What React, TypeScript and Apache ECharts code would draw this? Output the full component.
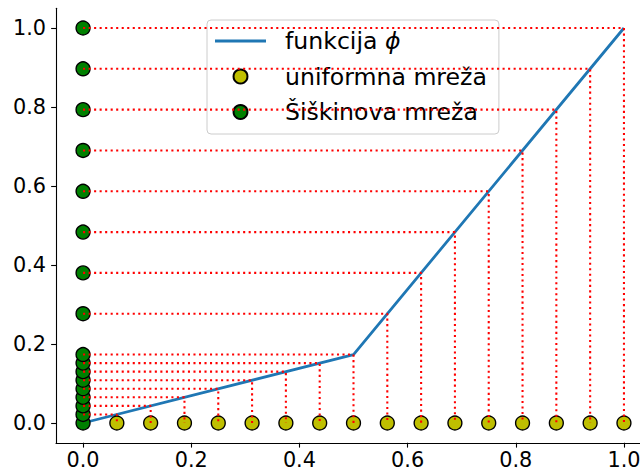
import React, { useEffect, useRef } from "react";
import * as echarts from "echarts";

const uniformX = [0, 0.0625, 0.125, 0.1875, 0.25, 0.3125, 0.375, 0.4375, 0.5, 0.5625, 0.625, 0.6875, 0.75, 0.8125, 0.875, 0.9375, 1];
const shishkinY = [0, 0.0217, 0.0433, 0.065, 0.0867, 0.1083, 0.13, 0.1516, 0.1733, 0.2766, 0.38, 0.4833, 0.5866, 0.69, 0.7933, 0.8967, 1];
const phiX = [0, 0.5, 1];
const phiY = [0, 0.1733, 1];
const xTicks = [0, 0.2, 0.4, 0.6, 0.8, 1.0];
const yTicks = [0, 0.2, 0.4, 0.6, 0.8, 1.0];
const names = ["funkcija ϕ", "uniformna mreža", "Šiškinova mreža"];

const FONT = "DejaVu Sans";

export default function App() {
  const ref = useRef<HTMLDivElement>(null);
  useEffect(() => {
    if (!ref.current) return;
    const chart = echarts.init(ref.current, null, { renderer: "svg" });

    const dotted: any[] = [];
    for (let i = 1; i < uniformX.length; i++) {
      dotted.push({
        type: "line",
        name: "guide" + i,
        data: [
          [0, shishkinY[i]],
          [uniformX[i], shishkinY[i]],
          [uniformX[i], 0],
        ],
        symbol: "none",
        z: 4,
        clip: false,
        lineStyle: { color: "#ff0000", width: 2.08, type: [2.08, 3.44], cap: "butt" },
        silent: true,
      });
    }

    const axisCommon = {
      type: "value",
      min: -0.05,
      max: 1.05,
      splitLine: { show: false },
      axisLine: { show: true, onZero: false, lineStyle: { color: "#000", width: 1.1 } },
      axisTick: { show: true, length: 4.86, lineStyle: { color: "#000", width: 1.1 } },
      axisLabel: {
        color: "#000",
        fontSize: 20.8,
        fontFamily: FONT,
        margin: 10,
        formatter: (v: number) => v.toFixed(1),
      },
    };

    chart.setOption({
      animation: false,
      grid: { left: 56, top: 8.25, width: 595, height: 434.5, outerBoundsMode: "none", containLabel: false },
      xAxis: {
        ...axisCommon,
        axisTick: { ...axisCommon.axisTick, customValues: xTicks },
        axisLabel: { ...axisCommon.axisLabel, customValues: xTicks, lineHeight: 16, margin: 9.5 },
      },
      yAxis: {
        ...axisCommon,
        axisTick: { ...axisCommon.axisTick, customValues: yTicks },
        axisLabel: { ...axisCommon.axisLabel, customValues: yTicks },
      },
      legend: {
        data: [
          { name: names[0], icon: "path://M0,0 L51,0 L51,2.78 L0,2.78 Z" },
          { name: names[1] },
          { name: names[2] },
        ],
        orient: "vertical",
        left: 207,
        top: 20,
        padding: [8, 12, 9, 8],
        itemGap: 9.5,
        itemWidth: 51,
        itemHeight: 13.9,
        backgroundColor: "#ffffff",
        borderColor: "#cccccc",
        borderWidth: 1,
        borderRadius: 4,
        selectedMode: false,
        formatter: (n: string) => (n === names[0] ? "funkcija {i|ϕ}" : n),
        textStyle: {
          color: "#000",
          fontSize: 23.6,
          fontFamily: FONT,
          lineHeight: 26,
          padding: [0, 0, 0, 14],
          rich: {
            i: { fontStyle: "italic", fontSize: 23.6, fontFamily: FONT, lineHeight: 26, color: "#000" },
          },
        },
      },
      series: [
        {
          type: "line",
          name: names[0],
          data: phiX.map((x, i) => [x, phiY[i]]),
          symbol: "none",
          z: 2,
          lineStyle: { color: "#1f77b4", width: 2.78 },
          itemStyle: { color: "#1f77b4" },
        },
        {
          type: "scatter",
          name: names[1],
          data: uniformX.slice(1).map((x) => [x, 0]),
          symbol: "circle",
          symbolSize: 13.9,
          z: 3,
          clip: false,
          itemStyle: { color: "#bfbf00", borderColor: "#000", borderWidth: 1.39, opacity: 1 },
        },
        {
          type: "scatter",
          name: names[2],
          data: shishkinY.map((y) => [0, y]),
          symbol: "circle",
          symbolSize: 13.9,
          z: 3,
          clip: false,
          itemStyle: { color: "#008000", borderColor: "#000", borderWidth: 1.39, opacity: 1 },
        },
        ...dotted,
      ],
    });
    return () => chart.dispose();
  }, []);
  return (
    <div
      ref={ref}
      style={{ position: "absolute", left: 0, top: 0, width: 640, height: 473, background: "#fff" }}
    />
  );
}
